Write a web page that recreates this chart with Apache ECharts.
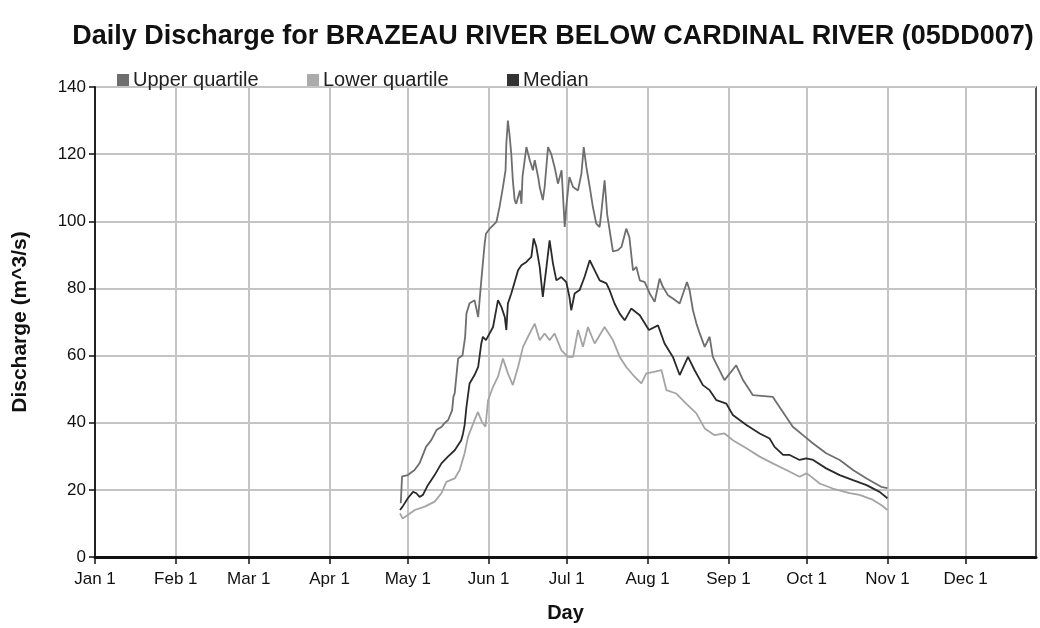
<!DOCTYPE html>
<html>
<head>
<meta charset="utf-8">
<title>Daily Discharge</title>
<script src="https://cdn.jsdelivr.net/npm/echarts@6/dist/echarts.min.js"></script>
<style>
	html, body { margin: 0; padding: 0; background: #fff; }
	#chart { width: 1040px; height: 628px; }
</style>
</head>
<body>
<div id="chart"></div>
<script>
// day of year (Jan 1 = 0) where each month label sits
var monthDays = [0, 31, 59, 90, 120, 151, 181, 212, 243, 273, 304, 334];
var monthLabels = ['Jan 1', 'Feb 1', 'Mar 1', 'Apr 1', 'May 1', 'Jun 1', 'Jul 1', 'Aug 1', 'Sep 1', 'Oct 1', 'Nov 1', 'Dec 1'];
var yTicks = [0, 20, 40, 60, 80, 100, 120, 140];

// upper quartile
var upperDay = [117.3, 117.8, 120, 122.6, 124.5, 127, 129, 131, 133, 134, 135.5, 137, 137.5, 138, 139.3, 141, 142, 142.5, 143.7, 145.6, 147, 148.2, 149.5, 150, 151.4, 152.7, 154, 155.2, 156.5, 157.5, 157.8, 158.4, 159, 159.7, 160.3, 161, 161.6, 163, 163.6, 164, 165.5, 166.8, 168, 168.7, 170, 170.6, 171.8, 172.5, 173.8, 175, 176.3, 177.6, 179, 179.5, 180.2, 180.8, 182, 183.4, 185.3, 186.6, 187.5, 188.5, 189.8, 191, 192.3, 193.6, 194.2, 195.5, 196.5, 198.7, 200.6, 202, 203.8, 205, 206.4, 207.7, 209, 210.9, 212.8, 214.7, 216.6, 217.9, 219.8, 221.7, 224.3, 227.1, 228.1, 229.4, 230.7, 232, 233.9, 235.8, 237, 241.5, 246, 248.6, 252.4, 260, 262.6, 267.7, 271.6, 275.5, 280.5, 285.7, 290.8, 296, 301.6, 304];
var upperVal = [16, 24, 24.4, 25.9, 27.9, 32.8, 34.8, 37.8, 38.8, 39.8, 40.8, 43.7, 47.7, 48.8, 59.1, 60.1, 65.6, 72.5, 75.6, 76.5, 71.5, 82.4, 93.4, 96.3, 97.8, 98.8, 99.8, 104.3, 110.2, 115.2, 123.1, 130, 126, 120.1, 112.2, 106.3, 105.2, 109.2, 105.2, 113.2, 122.1, 118.2, 115.2, 118.2, 113.2, 110.2, 106.3, 110.2, 122.1, 120.1, 116.2, 111.2, 115.2, 108.2, 98.3, 104.3, 113.2, 110.2, 109.2, 114.2, 122.1, 116.2, 110.2, 104.3, 99.3, 98.3, 102.3, 112.2, 102, 91, 91.4, 92.4, 97.8, 95.3, 85.4, 86.4, 82.4, 81.9, 78.5, 76, 82.9, 80.4, 78, 77, 75.5, 81.9, 79.5, 73.5, 69.6, 66.6, 62.6, 65.6, 59.6, 52.7, 57.1, 52.7, 48.2, 47.7, 44.7, 38.8, 36.3, 33.8, 30.9, 28.9, 25.9, 23.4, 20.9, 20.5];

// median
var medianDay = [117, 118, 120, 122, 123.3, 124.5, 125.8, 127.7, 130.3, 132.9, 135.4, 138, 140.5, 141.2, 141.8, 142.5, 143.7, 145.6, 147, 148.2, 148.8, 150, 152.7, 154.6, 155.9, 157.2, 157.8, 158.4, 159.7, 161, 162.3, 163.6, 165.5, 167.4, 168.3, 169.3, 170.6, 171.8, 173.2, 174.4, 175.7, 177, 178.9, 180.8, 182, 182.7, 184, 185.9, 187.8, 189.8, 191.7, 193.6, 196.2, 197.4, 199.3, 201.3, 203.2, 205.7, 209, 212.5, 216, 218.5, 221.7, 224.3, 227.5, 230, 233.2, 235.8, 238.4, 242.2, 244.7, 249.9, 255, 258.8, 260.7, 264, 266.5, 270.3, 272.9, 275.5, 280.5, 285.7, 290.8, 296, 301, 304];
var medianVal = [14, 15, 17.5, 19.4, 19, 17.9, 18.5, 21.4, 24.4, 27.9, 29.9, 31.8, 34.8, 36.8, 39.3, 44.7, 51.7, 54.2, 56.6, 63.6, 65.6, 64.6, 68.5, 76.5, 74.5, 71.5, 67.6, 75.5, 78.5, 81.9, 85.4, 86.9, 87.9, 89.4, 94.9, 92.4, 86.4, 77.5, 86.4, 94.3, 87.4, 82.4, 83.4, 81.9, 77.5, 73.5, 78.5, 79.5, 83.4, 88.4, 85.4, 82.4, 81.5, 79.5, 75.5, 72.5, 70.5, 74, 72, 67.6, 69, 63.6, 59.6, 54.2, 59.6, 55.7, 51.2, 49.7, 46.7, 45.7, 42.3, 39.3, 36.8, 35.3, 32.8, 30.4, 30.4, 28.9, 29.4, 28.9, 26.4, 24.4, 22.9, 21.4, 19.4, 17.5];

// lower quartile
var lowerDay = [117, 118, 120, 122.7, 126.5, 130.3, 132.9, 134.8, 138, 139.9, 141.8, 143.1, 145.6, 146.9, 148.4, 149.8, 150.8, 152.7, 154.6, 156.5, 158.4, 160.3, 162.3, 164.2, 166.1, 168.7, 170.6, 172.5, 174.4, 176.3, 178.9, 181.4, 183.4, 185.3, 187.2, 189.1, 191.7, 195.5, 198.7, 201.3, 203.8, 207, 209.6, 211.5, 214, 217.3, 219.2, 223, 226.8, 230.7, 233.9, 237.7, 241.5, 244.7, 249.9, 255, 260, 265.2, 270.3, 272.9, 274, 278, 283, 289.5, 293.3, 298.5, 301.6, 304];
var lowerVal = [13, 11.5, 12.5, 14, 15, 16.5, 19, 22.4, 23.4, 25.9, 30.9, 35.8, 40.8, 43.2, 40.3, 38.8, 46.7, 50.7, 53.7, 59.1, 54.7, 51.2, 56.6, 62.6, 65.6, 69.5, 64.6, 66.6, 64.6, 66.6, 61.6, 59.6, 59.6, 67.6, 62.6, 68.5, 63.6, 68.5, 64.6, 59.6, 56.6, 53.7, 51.7, 54.7, 55.1, 55.7, 49.7, 48.7, 45.7, 42.8, 38.3, 36.3, 36.8, 34.8, 32.4, 29.9, 27.9, 25.9, 23.9, 24.9, 24.4, 21.9, 20.4, 19, 18.5, 17, 15.5, 14];

function pairs(xs, ys) {
	return xs.map(function (x, i) { return [x, ys[i]]; });
}

var fontName = '"Liberation Sans", Arial, sans-serif';
var chart = echarts.init(document.getElementById('chart'), null, {renderer: 'canvas'});

// one legend per entry so each sits where the original puts it
function legendAt(name, left) {
	return {
		left: left,
		top: 65,
		icon: 'rect',
		itemWidth: 12,
		itemHeight: 12,
		textStyle: {fontFamily: fontName, fontSize: 20, color: '#222', padding: [0, 0, 0, -1]},
		data: [name]
	};
}

var option = {
	animation: false,
	backgroundColor: '#fff',
	title: {
		text: 'Daily Discharge for BRAZEAU RIVER BELOW CARDINAL RIVER (05DD007)',
		left: 548,
		textAlign: 'center',
		top: 18,
		textStyle: {fontFamily: fontName, fontSize: 27, fontWeight: 'bold', color: '#111'}
	},
	legend: [
		legendAt('Upper quartile', 112),
		legendAt('Lower quartile', 302),
		legendAt('Median', 502)
	],
	grid: {
		left: 95,
		right: 4,
		top: 87,
		bottom: 71,
		show: true,
		borderColor: '#222',
		borderWidth: 1.5,
		containLabel: false
	},
	xAxis: {
		type: 'value',
		min: 0,
		max: 361,
		name: 'Day',
		nameLocation: 'middle',
		nameGap: 46,
		nameTextStyle: {fontFamily: fontName, fontSize: 20, fontWeight: 'bold', color: '#111'},
		axisLine: {show: true, onZero: false, lineStyle: {color: '#111', width: 3}},
		axisTick: {show: true, customValues: monthDays, length: 7, lineStyle: {color: '#111', width: 1.5}},
		axisLabel: {
			customValues: monthDays,
			margin: 14,
			fontFamily: fontName,
			fontSize: 17,
			color: '#111',
			formatter: function (v) {
				var i = monthDays.indexOf(v);
				return i >= 0 ? monthLabels[i] : '';
			}
		},
		splitLine: {show: true, lineStyle: {color: '#c4c4c4', width: 2}}
	},
	yAxis: {
		type: 'value',
		min: 0,
		max: 140,
		interval: 20,
		name: 'Discharge (m^3/s)',
		nameLocation: 'middle',
		nameGap: 64,
		nameTextStyle: {fontFamily: fontName, fontSize: 21, fontWeight: 'bold', color: '#111'},
		axisLine: {show: true, lineStyle: {color: '#222', width: 2}},
		axisTick: {show: true, length: 6, lineStyle: {color: '#111', width: 1.5}},
		axisLabel: {
			margin: 9,
			fontFamily: fontName,
			fontSize: 17,
			color: '#111',
			formatter: function (v) { return yTicks.indexOf(v) >= 0 ? String(v) : ''; }
		},
		splitLine: {show: true, lineStyle: {color: '#c4c4c4', width: 2}}
	},
	series: [
		{
			name: 'Upper quartile',
			type: 'line',
			showSymbol: false,
			itemStyle: {color: '#6e6e6e'},
			lineStyle: {color: '#6e6e6e', width: 1.8},
			data: pairs(upperDay, upperVal)
		},
		{
			name: 'Lower quartile',
			type: 'line',
			showSymbol: false,
			itemStyle: {color: '#ababab'},
			lineStyle: {color: '#a4a4a4', width: 1.8},
			data: pairs(lowerDay, lowerVal)
		},
		{
			name: 'Median',
			type: 'line',
			showSymbol: false,
			itemStyle: {color: '#333'},
			lineStyle: {color: '#2a2a2a', width: 1.8},
			data: pairs(medianDay, medianVal)
		}
	]
};

chart.setOption(option);
</script>
</body>
</html>
